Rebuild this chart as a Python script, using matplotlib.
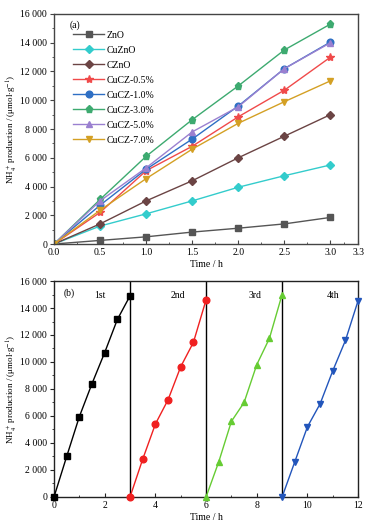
import matplotlib
matplotlib.use("Agg")
import matplotlib.pyplot as plt
from matplotlib.ticker import FuncFormatter, MultipleLocator, FixedLocator

plt.rcParams['font.family'] = ['Liberation Serif', 'DejaVu Serif']
plt.rcParams['mathtext.fontset'] = 'stix'

# Panel (a)
time_a = [0, 0.5, 1.0, 1.5, 2.0, 2.5, 3.0]
series_names = ["ZnO", "CuZnO", "CZnO", "CuCZ-0.5%", "CuCZ-1.0%", "CuCZ-3.0%", "CuCZ-5.0%", "CuCZ-7.0%"]
znO = [0, 250, 500, 830, 1100, 1400, 1850]
cuzno = [0, 1250, 2100, 3000, 3950, 4750, 5500]
czno = [0, 1400, 3000, 4400, 6000, 7500, 9000]
cucz05 = [0, 2200, 5100, 6800, 8850, 10700, 13000]
cucz10 = [0, 2700, 5200, 7300, 9600, 12200, 14050]
cucz30 = [0, 3100, 6100, 8650, 11000, 13500, 15300]
cucz50 = [0, 3000, 5300, 7800, 9550, 12200, 14000]
cucz70 = [0, 2350, 4550, 6600, 8400, 9900, 11350]
values_a = [znO, cuzno, czno, cucz05, cucz10, cucz30, cucz50, cucz70]
colors_a = ["#555555", "#33CCCC", "#6B4444", "#F04A4A", "#2E6FC4", "#3DAA70", "#9A80D0", "#D4A024"]
markers_a = ["s", "D", "D", "*", "o", "p", "^", "v"]
msizes_a = [4, 4, 4, 6, 4.8, 5.2, 4.8, 4.8]

# Panel (b)
cycle_labels = ["1st", "2nd", "3rd", "4th"]
time_b1 = [0, 0.5, 1.0, 1.5, 2.0, 2.5, 3.0]
time_b2 = [3.0, 3.5, 4.0, 4.5, 5.0, 5.5, 6.0]
time_b3 = [6.0, 6.5, 7.0, 7.5, 8.0, 8.5, 9.0]
time_b4 = [9.0, 9.5, 10.0, 10.5, 11.0, 11.5, 12.0]
cyc1 = [0, 3000, 5950, 8400, 10700, 13150, 14900]
cyc2 = [0, 2800, 5400, 7200, 9650, 11450, 14600]
cyc3 = [0, 2600, 5600, 7000, 9800, 11750, 15000]
cyc4 = [0, 2600, 5200, 6900, 9350, 11600, 14550]
times_b = [time_b1, time_b2, time_b3, time_b4]
values_b = [cyc1, cyc2, cyc3, cyc4]
colors_b = ["#000000", "#F02020", "#66CC33", "#2255BB"]
markers_b = ["s", "o", "^", "v"]
label_x_b = [1.8, 4.87, 7.93, 11.0]
dividers = [3, 6, 9]

fs = 7
lfs = 6.5
ylabel = r"NH$_4^+$ production / ($\mathrm{\mu}$mol$\cdot$g$^{-1}$)"
fmt = FuncFormatter(lambda v, p: f"{int(v):,}".replace(",", " "))

fig = plt.figure(figsize=(3.75, 5.3), dpi=100)
ax1 = fig.add_axes([0.144, 0.5396, 0.811, 0.434])
ax2 = fig.add_axes([0.144, 0.0623, 0.811, 0.4075])

for name, vals, c, m, ms in zip(series_names, values_a, colors_a, markers_a, msizes_a):
    ax1.plot(time_a, vals, color=c, marker=m, markersize=ms, lw=1.0, label=name)
ax1.set_xlim(0, 3.3)
ax1.set_ylim(0, 16000)
ax1.xaxis.set_major_locator(FixedLocator([0, 0.5, 1.0, 1.5, 2.0, 2.5, 3.0, 3.3]))
ax1.xaxis.set_major_formatter(FuncFormatter(lambda v, p: f"{v:.1f}"))
ax1.xaxis.set_minor_locator(FixedLocator([0.25, 0.75, 1.25, 1.75, 2.25, 2.75, 3.15]))
ax1.text(0.17, 15250, "(a)", fontsize=fs, va="center")
leg = ax1.legend(loc="upper left", bbox_to_anchor=(0.05, 0.945), frameon=False, fontsize=fs,
                 handlelength=3.2, labelspacing=0.62, handletextpad=0.25, borderaxespad=0)

for t, vals, c, m in zip(times_b, values_b, colors_b, markers_b):
    ax2.plot(t, vals, color=c, marker=m, markersize=4.8, lw=1.0, clip_on=False, zorder=3)
for d in dividers:
    ax2.axvline(d, color="black", lw=1.0, zorder=2)
for x, lab in zip(label_x_b, cycle_labels):
    ax2.text(x, 14900, lab, fontsize=fs, ha="center", va="center")
ax2.text(0.6, 15100, "(b)", fontsize=fs, ha="center", va="center")
ax2.set_xlim(0, 12)
ax2.set_ylim(0, 16000)
ax2.xaxis.set_major_locator(MultipleLocator(2))
ax2.xaxis.set_minor_locator(MultipleLocator(1))

for ax, sc in ((ax1, "#444444"), (ax2, "#222222")):
    ax.yaxis.set_major_locator(MultipleLocator(2000))
    ax.yaxis.set_minor_locator(MultipleLocator(1000))
    ax.yaxis.set_major_formatter(fmt)
    ax.tick_params(axis="y", which="both", direction="out", labelsize=fs, color=sc, pad=2)
    ax.tick_params(axis="x", which="both", direction="in", labelsize=fs, color=sc, pad=3)
    ax.tick_params(which="major", length=3, width=0.8)
    ax.tick_params(which="minor", length=1.8, width=0.6)
    for s in ax.spines.values():
        s.set_color(sc)
        s.set_linewidth(1.0)
    ax.set_xlabel("Time / h", fontsize=fs, labelpad=2)
    ax.set_ylabel(ylabel, fontsize=lfs, labelpad=1)

fig.savefig("out.png", dpi=100)
